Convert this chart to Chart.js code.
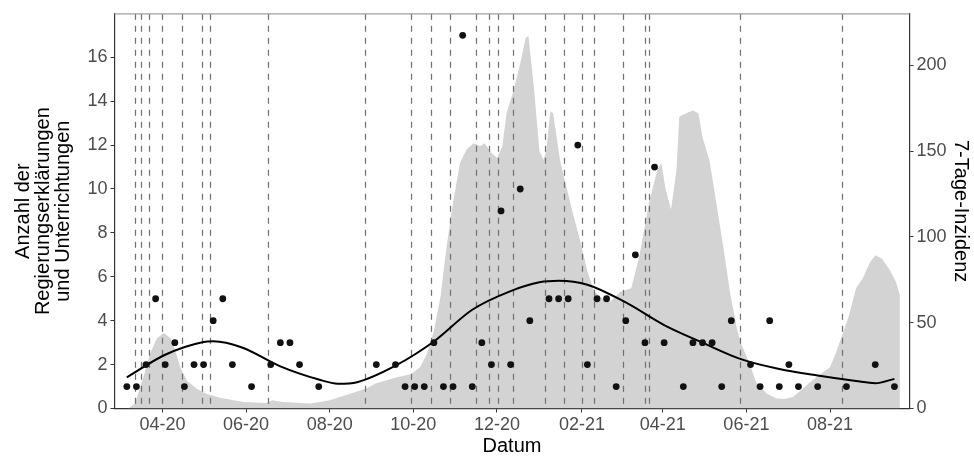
<!DOCTYPE html>
<html>
<head>
<meta charset="utf-8">
<script src="https://cdn.jsdelivr.net/npm/chart.js@4.4.1/dist/chart.umd.min.js"></script>
<style>
  html, body { margin: 0; padding: 0; background: #fff; }
</style>
</head>
<body>
<canvas id="chart" width="974" height="459"></canvas>
<script>
// weekly counts of Regierungserklärungen / Unterrichtungen (left axis)
const pointDates = [
  '2020-03-06','2020-03-13','2020-03-20','2020-03-27','2020-04-03','2020-04-10','2020-04-17','2020-04-24',
  '2020-05-01','2020-05-08','2020-05-15','2020-05-22','2020-06-05','2020-06-19','2020-06-26','2020-07-03',
  '2020-07-10','2020-07-24','2020-09-04','2020-09-18','2020-09-25','2020-10-02','2020-10-09','2020-10-16',
  '2020-10-23','2020-10-30','2020-11-06','2020-11-13','2020-11-20','2020-11-27','2020-12-04','2020-12-11',
  '2020-12-18','2020-12-25','2021-01-08','2021-01-15','2021-01-22','2021-01-29','2021-02-05','2021-02-12',
  '2021-02-19','2021-02-26','2021-03-05','2021-03-12','2021-03-19','2021-03-26','2021-04-02','2021-04-16',
  '2021-04-23','2021-04-30','2021-05-07','2021-05-14','2021-05-21','2021-06-04','2021-06-11','2021-06-18',
  '2021-06-25','2021-07-02','2021-07-09','2021-07-23','2021-08-13','2021-09-03','2021-09-17'
];
const pointCounts = [
  1, 1, 2, 5, 2, 3, 1, 2,
  2, 4, 5, 2, 1, 2, 3, 3,
  2, 1, 2, 2, 1, 1, 1, 3,
  1, 1, 17, 1, 3, 2, 9, 2,
  10, 4, 5, 5, 5, 12, 2, 5,
  5, 1, 4, 7, 3, 11, 3, 1,
  3, 3, 3, 1, 4, 2, 1, 4,
  1, 2, 1, 1, 1, 2, 1
];

// smoothed trend (left axis)
const smoothDates = [
  '2020-03-06','2020-04-03','2020-05-01','2020-05-08','2020-05-29','2020-06-26','2020-07-24','2020-08-07',
  '2020-08-21','2020-09-18','2020-10-16','2020-11-13','2020-12-11','2021-01-01','2021-01-15','2021-02-05',
  '2021-03-05','2021-04-02','2021-04-30','2021-05-28','2021-06-25','2021-07-23','2021-08-20','2021-09-03',
  '2021-09-17'
];
const smoothValues = [
  1.42, 2.45, 3.03, 3.06, 2.78, 1.92, 1.32, 1.13,
  1.2, 1.95, 3.05, 4.5, 5.35, 5.75, 5.82, 5.64,
  4.83, 3.8, 3.0, 2.25, 1.8, 1.5, 1.25, 1.15,
  1.35
];

// 7-Tage-Inzidenz (right axis)
const incidenceDates = [
  '2020-03-07','2020-03-12','2020-03-18','2020-03-23','2020-03-28','2020-04-02','2020-04-07','2020-04-11',
  '2020-04-14','2020-04-19','2020-04-26','2020-05-03','2020-05-13','2020-05-30','2020-06-16','2020-06-20',
  '2020-06-28','2020-07-18','2020-08-01','2020-08-16','2020-08-27','2020-09-04','2020-09-19','2020-09-29',
  '2020-10-06','2020-10-11','2020-10-16','2020-10-21','2020-10-25','2020-10-30','2020-11-04','2020-11-09',
  '2020-11-14','2020-11-19','2020-11-22','2020-11-27','2020-12-01','2020-12-05','2020-12-08','2020-12-13',
  '2020-12-18','2020-12-22','2020-12-24','2020-12-28','2021-01-01','2021-01-04','2021-01-06','2021-01-09',
  '2021-01-11','2021-01-16','2021-01-21','2021-01-26','2021-01-31','2021-02-05','2021-02-10','2021-02-17',
  '2021-02-22','2021-03-01','2021-03-09','2021-03-15','2021-03-22','2021-03-28','2021-03-31','2021-04-03',
  '2021-04-07','2021-04-11','2021-04-13','2021-04-18','2021-04-23','2021-04-27','2021-04-30','2021-05-05',
  '2021-05-10','2021-05-15','2021-05-20','2021-05-25','2021-05-28','2021-06-03','2021-06-08','2021-06-16',
  '2021-06-23','2021-06-29','2021-07-05','2021-07-10','2021-07-17','2021-07-25','2021-08-01','2021-08-05',
  '2021-08-10','2021-08-15','2021-08-20','2021-08-25','2021-08-30','2021-09-03','2021-09-08','2021-09-13',
  '2021-09-18','2021-09-21'
];
const incidenceValues = [
  0, 3, 18, 32, 41, 44, 41, 32,
  24, 16, 11.5, 8.6, 6.3, 3.8, 3.2, 4.8,
  3.8, 2.9, 4.8, 8.6, 11.5, 14.7, 18.2, 20,
  24, 32, 45, 66, 93, 120, 143, 151,
  154.5, 153, 154.5, 149, 146, 153, 172, 185,
  201, 216, 217, 187, 150, 145, 150, 173,
  172, 145, 128, 112, 97, 80, 68, 63.5,
  62.5, 68, 70, 89, 120, 139, 143, 128,
  116, 139, 170, 172, 173.7, 172, 158, 145,
  120, 95, 68, 47, 38, 27, 15.5, 8.6,
  5.8, 5.5, 6.7, 10, 15, 20, 24, 31.7,
  43, 54.7, 70, 76, 85, 89.3, 87.3, 81.5,
  74, 66
];

// dates marked with dashed vertical lines
const meetingDates = [
  '2020-03-12','2020-03-16','2020-03-22','2020-04-01','2020-04-15','2020-04-30','2020-05-06','2020-06-17',
  '2020-08-27','2020-09-29','2020-10-14','2020-10-28','2020-11-16','2020-11-25','2020-12-02','2020-12-13',
  '2021-01-05','2021-01-19','2021-02-01','2021-02-10','2021-03-03','2021-03-19','2021-03-22','2021-05-27',
  '2021-08-10'
];

const tickDates = ['2020-04-01','2020-06-01','2020-08-01','2020-10-01','2020-12-01','2021-02-01','2021-04-01','2021-06-01','2021-08-01'];
const tickLabels = ['04-20','06-20','08-20','10-20','12-20','02-21','04-21','06-21','08-21'];
const leftTicks = [0, 2, 4, 6, 8, 10, 12, 14, 16];
const rightTicks = [0, 50, 100, 150, 200];

function day(s) {
  const [y, m, d] = s.split('-').map(Number);
  return Date.UTC(y, m - 1, d) / 86400000;
}
function pairs(dates, values) {
  return dates.map((d, i) => ({ x: day(d), y: values[i] }));
}

const FONT = 'Liberation Sans, Arial, Helvetica, sans-serif';
const tickFont = { family: FONT, size: 18 };
const titleFont = { family: FONT, size: 20, lineHeight: 1 };

const meetingLines = {
  id: 'meetingLines',
  afterDatasetDraw(chart, args) {
    if (args.index !== 2) return;
    const { ctx, chartArea, scales } = chart;
    ctx.save();
    ctx.strokeStyle = '#707070';
    ctx.lineWidth = 1.2;
    ctx.setLineDash([6, 6]);
    meetingDates.forEach(d => {
      const x = Math.round(scales.x.getPixelForValue(day(d))) + 0.5;
      ctx.beginPath();
      ctx.moveTo(x, chartArea.top);
      ctx.lineTo(x, chartArea.bottom);
      ctx.stroke();
    });
    ctx.restore();
  },
  afterDraw(chart) {
    const { ctx, chartArea } = chart;
    ctx.save();
    ctx.strokeStyle = '#a0a0a0';
    ctx.lineWidth = 1.3;
    ctx.beginPath();
    ctx.moveTo(chartArea.left, chartArea.top);
    ctx.lineTo(chartArea.right, chartArea.top);
    ctx.stroke();
    ctx.restore();
  }
};

new Chart(document.getElementById('chart'), {
  type: 'line',
  data: {
    datasets: [
      {
        label: 'Anzahl',
        data: pairs(pointDates, pointCounts),
        showLine: false,
        pointRadius: 3.4,
        pointBackgroundColor: '#111',
        pointBorderWidth: 0,
        yAxisID: 'y',
        order: 1
      },
      {
        label: 'Trend',
        data: pairs(smoothDates, smoothValues),
        borderColor: '#000',
        borderWidth: 2,
        pointRadius: 0,
        cubicInterpolationMode: 'monotone',
        fill: false,
        yAxisID: 'y',
        order: 2
      },
      {
        label: '7-Tage-Inzidenz',
        data: pairs(incidenceDates, incidenceValues),
        borderWidth: 0,
        pointRadius: 0,
        tension: 0,
        fill: 'origin',
        backgroundColor: '#d3d3d3',
        yAxisID: 'y2',
        order: 3
      }
    ]
  },
  options: {
    responsive: false,
    animation: false,
    devicePixelRatio: 1,
    layout: { padding: { top: 9, left: 0, right: 0, bottom: 0 } },
    plugins: { legend: { display: false }, tooltip: { enabled: false } },
    scales: {
      x: {
        type: 'linear',
        min: day('2020-02-26'),
        max: day('2021-09-28'),
        afterBuildTicks: scale => { scale.ticks = tickDates.map(d => ({ value: day(d) })); },
        afterFit: scale => { scale.height = 50.5; },
        ticks: {
          autoSkip: false, maxRotation: 0, padding: 2,
          color: '#4d4d4d', font: tickFont,
          callback: (v, i) => tickLabels[i]
        },
        grid: { drawOnChartArea: false, drawTicks: true, tickLength: 4, color: '#333' },
        border: { color: '#333', width: 1.2 },
        title: { display: true, text: 'Datum', color: '#000', font: titleFont, padding: { top: 0, bottom: 3 } }
      },
      y: {
        position: 'left',
        min: 0,
        max: 17.98,
        afterBuildTicks: scale => { scale.ticks = leftTicks.map(v => ({ value: v })); },
        afterFit: scale => { scale.width = 114.5; },
        ticks: { color: '#4d4d4d', font: tickFont, padding: 3 },
        grid: { drawOnChartArea: false, drawTicks: true, tickLength: 4, color: '#333' },
        border: { color: '#333', width: 1.2 },
        title: {
          display: true,
          text: ['Anzahl der', 'Regierungserklärungen', 'und Unterrichtungen'],
          color: '#000', font: titleFont, padding: { top: 13, bottom: 0 }
        }
      },
      y2: {
        position: 'right',
        min: 0,
        max: 230,
        afterBuildTicks: scale => { scale.ticks = rightTicks.map(v => ({ value: v })); },
        afterFit: scale => { scale.width = 64.5; },
        ticks: { color: '#4d4d4d', font: tickFont, padding: 3 },
        grid: { drawOnChartArea: false, drawTicks: true, tickLength: 4, color: '#333' },
        border: { color: '#333', width: 1.2 },
        title: { display: true, text: '7-Tage-Inzidenz', color: '#000', font: titleFont, padding: { top: 3, bottom: 0 } }
      }
    }
  },
  plugins: [meetingLines]
});
</script>
</body>
</html>
